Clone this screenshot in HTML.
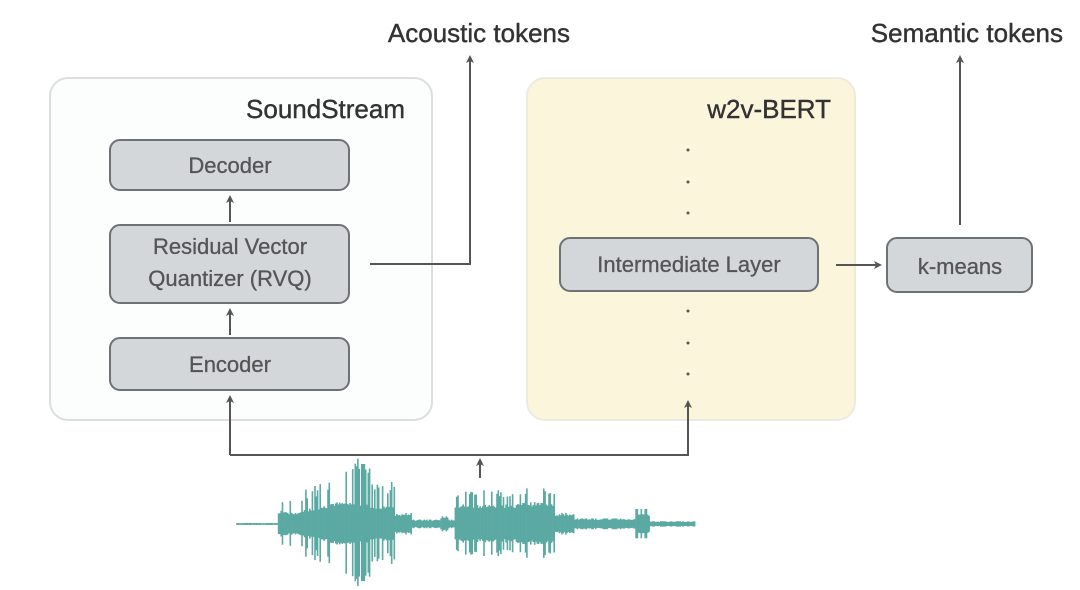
<!DOCTYPE html>
<html><head><meta charset="utf-8"><style>
html,body{margin:0;padding:0;background:#fff;}
svg{display:block;font-family:"Liberation Sans",sans-serif;}
</style></head><body>
<svg id="s" width="1080" height="590" viewBox="0 0 1080 590" xmlns="http://www.w3.org/2000/svg">
<defs><marker id="a" markerWidth="8" markerHeight="8" refX="6" refY="4" orient="auto" markerUnits="userSpaceOnUse"><path d="M0,0 L8,4 L0,8 L2,4 Z" fill="#555"/></marker></defs>
<rect x="50" y="78" width="382" height="342" rx="18" fill="#fcfdfd" stroke="#dcdedf" stroke-width="2"/>
<rect x="527" y="78" width="328" height="342" rx="18" fill="#fbf5dc" stroke="#ecebe0" stroke-width="2"/>
<g fill="#333" font-size="26" text-anchor="end" stroke="#333" stroke-width="0.4">
<text x="405" y="118">SoundStream</text>
<text x="831" y="118">w2v-BERT</text>
<text x="570" y="42">Acoustic tokens</text>
<text x="1063" y="42">Semantic tokens</text>
</g>
<g fill="#d3d7da" stroke="#6f7275" stroke-width="2">
<rect x="110" y="140" width="239" height="50" rx="10"/>
<rect x="110" y="225" width="239" height="78" rx="10"/>
<rect x="110" y="338" width="239" height="52" rx="10"/>
<rect x="560" y="238" width="258" height="53" rx="10"/>
<rect x="887" y="238" width="145" height="54" rx="10"/>
</g>
<g font-size="22" fill="#555" text-anchor="middle" stroke="#555" stroke-width="0.3">
<text x="230" y="173">Decoder</text>
<text x="230" y="254">Residual Vector</text>
<text x="230" y="286">Quantizer (RVQ)</text>
<text x="230" y="372">Encoder</text>
<text x="689" y="272">Intermediate Layer</text>
<text x="960" y="274">k-means</text>
</g>
<g stroke="#555" stroke-width="2" fill="none">
<line x1="230" y1="222" x2="230" y2="197" marker-end="url(#a)"/>
<line x1="230" y1="335" x2="230" y2="310" marker-end="url(#a)"/>
<polyline points="370,264 470,264 470,57" marker-end="url(#a)"/>
<line x1="960" y1="225" x2="960" y2="57" marker-end="url(#a)"/>
<line x1="836" y1="265" x2="880" y2="265" marker-end="url(#a)"/>
<polyline points="230,455 230,397"  marker-end="url(#a)"/>
<polyline points="230,455 688,455 688,402" marker-end="url(#a)"/>
<line x1="480" y1="478" x2="480" y2="460" marker-end="url(#a)"/>
</g>
<g fill="#555">
<circle cx="688" cy="150" r="1.5"/><circle cx="688" cy="182" r="1.5"/><circle cx="688" cy="213" r="1.5"/>
<circle cx="688" cy="311" r="1.5"/><circle cx="688" cy="343" r="1.5"/><circle cx="688" cy="374" r="1.5"/>
</g>
<g id="w" stroke="#5ba9a3" stroke-width="1.6"></g>
</svg>
<script>
(function(){
var g=document.getElementById('w'),cy=524,seed=7;
function r(){seed=(seed*9301+49297)%233280;return seed/233280;}
function env(x){
 if(x<278)return 1;
 if(x<300)return 12;
 if(x<330)return 14+ (x-300)*0.2;
 if(x<370)return 22;
 if(x<395)return 18;
 if(x<412)return 10;
 if(x<440)return 4;
 if(x<448)return 7;
 if(x<455)return 4;
 if(x<520)return 20;
 if(x<555)return 22;
 if(x<575)return 10;
 if(x<600)return 5;
 if(x<635)return 5;
 if(x<650)return 10;
 if(x<695)return 2.5;
 return 0;}
function spk(x){
 if(x>=282&&x<400)return 1.6+r()*0.8+(x>350&&x<370?0.6:0);
 if(x>=455&&x<560)return 1.3+r()*0.4;
 if(x>=635&&x<650)return 1.5;
 return 1.1;}
var h='';
for(var x=237;x<=695;x+=1.3){
 var e=env(x),a=e*(0.8+r()*0.2);
 if(r()<0.3)a=e*spk(x);
 if(Math.abs(x-363)<2)a=60;
 h+='<line x1="'+x.toFixed(1)+'" y1="'+(cy-a).toFixed(1)+'" x2="'+x.toFixed(1)+'" y2="'+(cy+a*0.95).toFixed(1)+'"/>';
}
g.innerHTML=h;
})();
</script>
</body></html>
